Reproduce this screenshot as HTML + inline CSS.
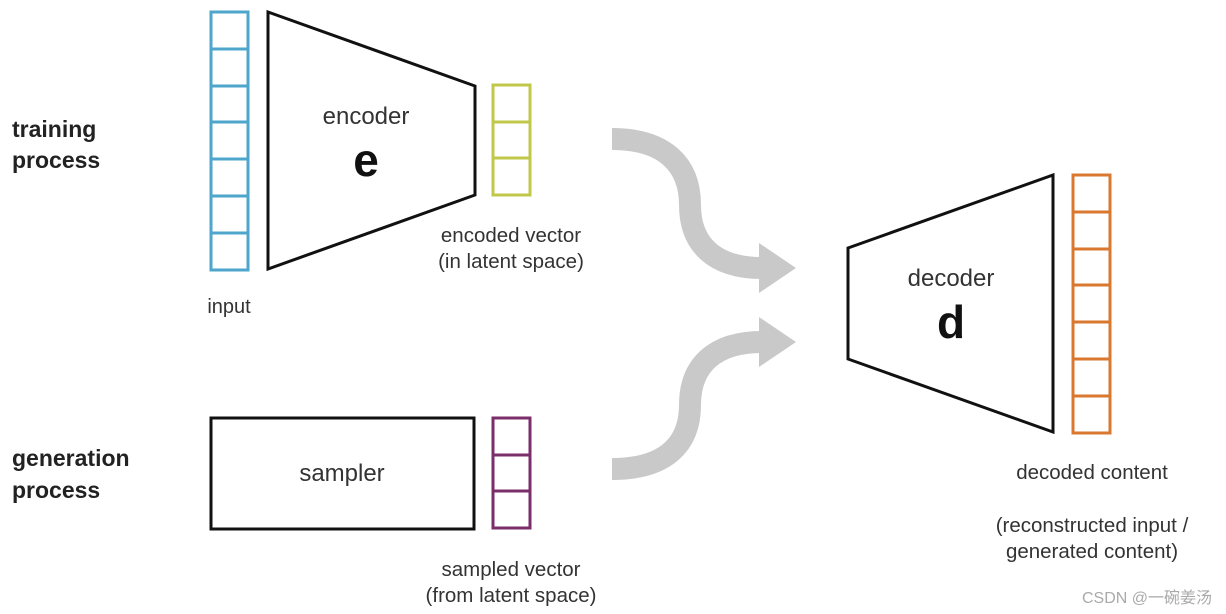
<!DOCTYPE html>
<html><head><style>
html,body{margin:0;padding:0;background:#fff;width:1226px;height:614px;overflow:hidden}
svg{display:block}
text{font-family:"Liberation Sans","Noto Sans CJK SC",sans-serif;fill:#333}
</style></head><body>
<svg width="1226" height="614" viewBox="0 0 1226 614" xmlns="http://www.w3.org/2000/svg">
<text x="12" y="137" font-size="23" font-weight="bold" style="fill:#222">training</text>
<text x="12" y="168" font-size="23" font-weight="bold" style="fill:#222">process</text>
<text x="12" y="466" font-size="23" font-weight="bold" style="fill:#222">generation</text>
<text x="12" y="498" font-size="23" font-weight="bold" style="fill:#222">process</text>

<g fill="none" stroke="#4ea6cc" stroke-width="3">
<rect x="211" y="12" width="37" height="258"/>
<line x1="211" y1="49" x2="248" y2="49"/><line x1="211" y1="86" x2="248" y2="86"/>
<line x1="211" y1="122" x2="248" y2="122"/><line x1="211" y1="159" x2="248" y2="159"/>
<line x1="211" y1="196" x2="248" y2="196"/><line x1="211" y1="233" x2="248" y2="233"/>
</g>
<text x="229" y="313" font-size="20" text-anchor="middle">input</text>

<polygon points="268,12 475,86 475,195 268,269" fill="none" stroke="#111" stroke-width="3"/>
<text x="366" y="124" font-size="24" text-anchor="middle">encoder</text>
<text x="366" y="176" font-size="46" font-weight="bold" text-anchor="middle" style="fill:#111">e</text>

<g fill="none" stroke="#c0c84a" stroke-width="3">
<rect x="493" y="85" width="37" height="110"/>
<line x1="493" y1="122" x2="530" y2="122"/><line x1="493" y1="158" x2="530" y2="158"/>
</g>
<text x="511" y="242" font-size="20.5" text-anchor="middle">encoded vector</text>
<text x="511" y="268" font-size="20.5" text-anchor="middle">(in latent space)</text>

<rect x="211" y="418" width="263" height="111" fill="none" stroke="#111" stroke-width="3"/>
<text x="342" y="481" font-size="24" text-anchor="middle">sampler</text>
<g fill="none" stroke="#7a2e6a" stroke-width="3">
<rect x="493" y="418" width="37" height="110"/>
<line x1="493" y1="455" x2="530" y2="455"/><line x1="493" y1="491" x2="530" y2="491"/>
</g>
<text x="511" y="576" font-size="20.5" text-anchor="middle">sampled vector</text>
<text x="511" y="602" font-size="20.5" text-anchor="middle">(from latent space)</text>

<g fill="none" stroke="#c9c9c9" stroke-width="22">
<path d="M612,139 C665,139 690,165 690,205 C690,245 715,268 762,268"/>
<path d="M612,469 C665,469 690,445 690,405 C690,365 715,342 762,342"/>
</g>
<g fill="#c9c9c9">
<polygon points="759,243 796,268 759,293"/>
<polygon points="759,317 796,342 759,367"/>
</g>

<polygon points="848,248 1053,175 1053,432 848,359" fill="none" stroke="#111" stroke-width="3"/>
<text x="951" y="286" font-size="24" text-anchor="middle">decoder</text>
<text x="951" y="338" font-size="46" font-weight="bold" text-anchor="middle" style="fill:#111">d</text>

<g fill="none" stroke="#d9782e" stroke-width="3">
<rect x="1073" y="175" width="37" height="258"/>
<line x1="1073" y1="212" x2="1110" y2="212"/><line x1="1073" y1="249" x2="1110" y2="249"/>
<line x1="1073" y1="285" x2="1110" y2="285"/><line x1="1073" y1="322" x2="1110" y2="322"/>
<line x1="1073" y1="359" x2="1110" y2="359"/><line x1="1073" y1="396" x2="1110" y2="396"/>
</g>
<text x="1092" y="479" font-size="20.5" text-anchor="middle">decoded content</text>
<text x="1092" y="532" font-size="20.5" text-anchor="middle">(reconstructed input /</text>
<text x="1092" y="558" font-size="20.5" text-anchor="middle">generated content)</text>

<text x="1212" y="603" font-size="16" text-anchor="end" style="fill:#aaa">CSDN @一碗姜汤</text>
</svg>
</body></html>
